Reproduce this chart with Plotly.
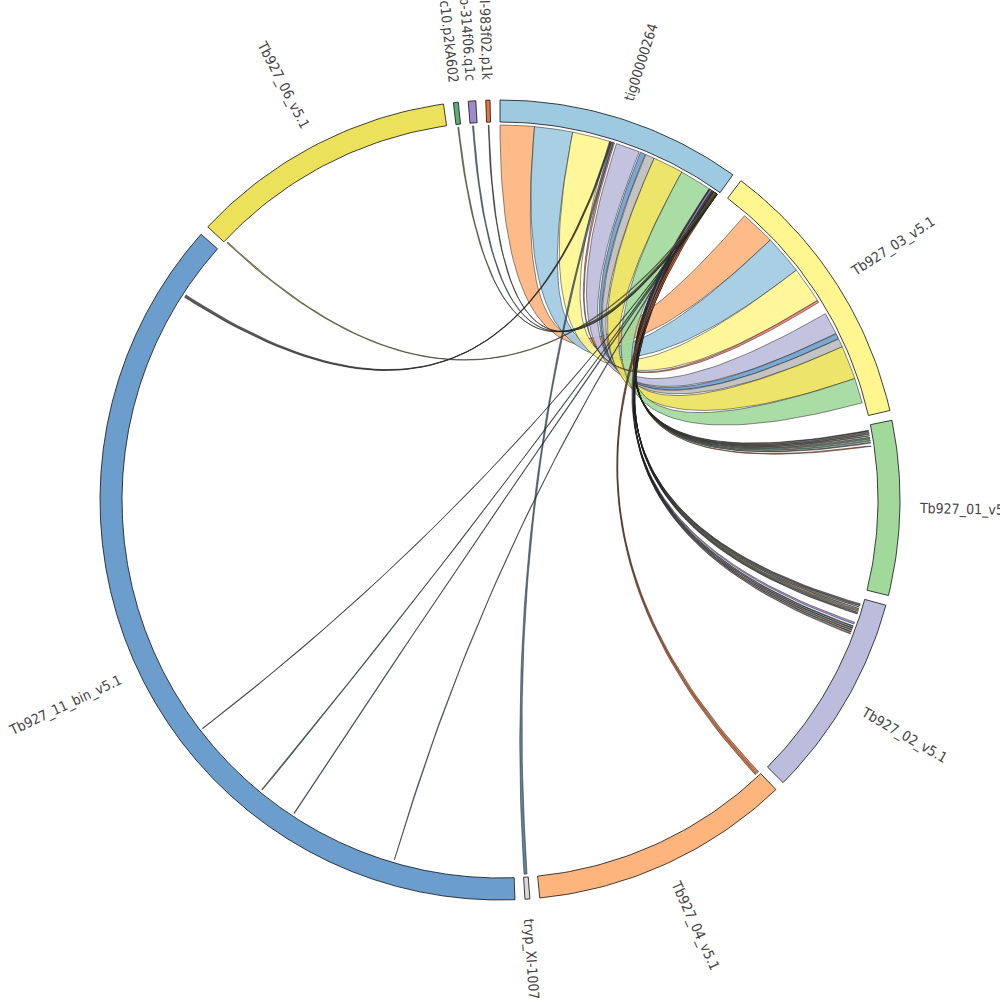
import numpy as np
import plotly.graph_objects as go

# ── Segments (clockwise from 12 o'clock), lengths in kb ──────────────────────
SEG_NAMES = [
    "tig00000264", "Tb927_03_v5.1", "Tb927_01_v5.1", "Tb927_02_v5.1",
    "Tb927_04_v5.1", "tryp_XI-1007h09.p1k", "Tb927_11_bin_v5.1", "Tb927_06_v5.1",
    "tryp_XI-1002c10.p2kA602", "tryp_XIb-314f06.q1c", "tryp_XI-983f02.p1k",
]
SEG_LEN_KB = [1467, 1650, 1043, 1224, 1562, 29, 5513, 1599, 29, 45, 25]
SEG_COLORS = [
    "#9ECAE1", "#FFF68F", "#A1D99B", "#BCBDDC", "#FDB47D", "#D9D9D9",
    "#6B9ECD", "#EBE15A", "#5BAE7C", "#9E8BCF", "#E8743B",
]

# ── Links: segment index + start/end (kb) on each side ───────────────────────
LINK_A = [0, 0, 0, 0, 0, 0, 0, 0, 0,
          0, 0, 0,
          0, 0, 0, 0, 0, 0, 0, 0, 0,
          0, 0, 0, 0, 0, 0, 0, 0,
          0, 0, 0, 0, 0, 0,
          0, 0,
          0, 0, 0, 0,
          0, 0, 0, 0]
LINK_A_START = [0, 218, 461, 746, 906, 943, 1001, 1195, 721,
                702, 708, 714,
                1398, 1402, 1406, 1410, 1414, 1418, 1422, 1426, 1430,
                1420, 1424, 1428, 1432, 1436, 1440, 1444, 1448,
                1404, 1430, 1434, 1438, 1442, 1446,
                1434, 1446,
                1450, 1452, 1454, 1456,
                1440, 1444, 1448, 1452]
LINK_A_END = [218, 461, 700, 898, 939, 1001, 1195, 1397, 733,
              707, 713, 726,
              1404, 1408, 1412, 1416, 1420, 1424, 1428, 1432, 1436,
              1425, 1429, 1433, 1437, 1441, 1445, 1449, 1453,
              1416, 1436, 1440, 1444, 1448, 1452,
              1446, 1458,
              1455, 1459, 1458, 1460,
              1448, 1451, 1456, 1458]
LINK_B = [1, 1, 1, 1, 1, 1, 1, 1, 1,
          6, 6, 5,
          2, 2, 2, 2, 2, 2, 2, 2, 2,
          3, 3, 3, 3, 3, 3, 3, 3,
          3, 3, 3, 3, 3, 3,
          4, 4,
          6, 6, 6, 6,
          7, 8, 9, 10]
LINK_B_START = [151, 374, 625, 955, 1095, 1132, 1189, 1404, 856,
                5146, 5156, 4,
                32, 42, 52, 62, 73, 83, 95, 108, 128,
                34, 42, 51, 61, 71, 79, 88, 96,
                155, 179, 191, 203, 216, 228,
                1, 17,
                758, 1458, 1708, 2249,
                8, 9, 14, 9]
LINK_B_END = [374, 625, 856, 1095, 1132, 1189, 1404, 1564, 872,
              5153, 5163, 25,
              38, 48, 58, 68, 79, 89, 101, 114, 134,
              39, 47, 56, 66, 76, 84, 93, 101,
              167, 185, 197, 210, 222, 234,
              13, 29,
              763, 1463, 1715, 2253,
              16, 16, 22, 15]
LINK_COLORS = [
    "#FDB47D", "#9ECAE1", "#FFF68F", "#BCBDDC", "#6B9ECD", "#BDBDBD", "#EBE15A", "#A1D99B", "#FB8072",
    "#555555", "#666666", "#4F7590",
    "#333333", "#888888", "#555555", "#8C6D4F", "#999999", "#5AAE7C", "#6DBE85", "#777777", "#E8743B",
    "#999999", "#777777", "#A0A0A0", "#8C6D4F", "#EBE155", "#BBBBBB", "#888888", "#666666",
    "#9E8BCF", "#2F4F5F", "#1F3F4F", "#8B3A2A", "#444444", "#8A8A8A",
    "#E8743B", "#D9622B",
    "#5B7F95", "#4F6F85", "#3F6F4F", "#3A5A3A",
    "#9A9440", "#8C8C3A", "#4F7F95", "#5A3A2A",
]

# ── Geometry ────────────────────────────────────────────────────────────────
GAP_DEG = 1.43
R_IN, R_OUT, R_LINK, R_LABEL = 378, 400, 375, 420
FONT_PX = 14
CONDENSED = 0.9  # width factor of DejaVu Sans Condensed

n_seg = len(SEG_NAMES)
deg_per_kb = (360 - n_seg * GAP_DEG) / sum(SEG_LEN_KB)
seg_start = []
acc = 0.0
for length in SEG_LEN_KB:
    seg_start.append(acc)
    acc += length * deg_per_kb + GAP_DEG


def ang(seg, kb):
    return seg_start[seg] + kb * deg_per_kb


def arc(r, a0, a1, n=40):
    t = np.radians(np.linspace(a0, a1, n))
    return r * np.sin(t), r * np.cos(t)


def bezier(p0, p2, n=60):
    # quadratic curve with control point at the circle centre
    t = np.linspace(0, 1, n)
    return (1 - t) ** 2 * p0[0] + t ** 2 * p2[0], (1 - t) ** 2 * p0[1] + t ** 2 * p2[1]


def pt(r, a):
    return r * np.sin(np.radians(a)), r * np.cos(np.radians(a))


def rgba(hex_color, alpha):
    h = hex_color.lstrip("#")
    return f"rgba({int(h[0:2], 16)},{int(h[2:4], 16)},{int(h[4:6], 16)},{alpha})"


fig = go.Figure()

# ring segments
for i in range(n_seg):
    a0, a1 = seg_start[i], seg_start[i] + SEG_LEN_KB[i] * deg_per_kb
    xo, yo = arc(R_OUT, a0, a1)
    xi, yi = arc(R_IN, a1, a0)
    fig.add_trace(go.Scatter(
        x=np.concatenate([xo, xi, xo[:1]]), y=np.concatenate([yo, yi, yo[:1]]),
        mode="lines", fill="toself", fillcolor=SEG_COLORS[i],
        line=dict(color="#111111", width=0.8), hoverinfo="skip", showlegend=False,
    ))

# links
for k in range(len(LINK_A)):
    a1, a2 = ang(LINK_A[k], LINK_A_START[k]), ang(LINK_A[k], LINK_A_END[k])
    b1, b2 = ang(LINK_B[k], LINK_B_START[k]), ang(LINK_B[k], LINK_B_END[k])
    xs, ys = arc(R_LINK, a1, a2, 20)
    xc1, yc1 = bezier(pt(R_LINK, a2), pt(R_LINK, b1))
    xt, yt = arc(R_LINK, b1, b2, 20)
    xc2, yc2 = bezier(pt(R_LINK, b2), pt(R_LINK, a1))
    fig.add_trace(go.Scatter(
        x=np.concatenate([xs, xc1, xt, xc2]), y=np.concatenate([ys, yc1, yt, yc2]),
        mode="lines", fill="toself", fillcolor=rgba(LINK_COLORS[k], 0.9),
        line=dict(color="rgba(25,25,25,0.9)", width=0.55), hoverinfo="skip", showlegend=False,
    ))

# labels, rotated along the radius
CHAR_W = {"0": .636, "1": .636, "2": .636, "3": .636, "4": .636, "5": .636, "6": .636,
          "7": .636, "8": .636, "9": .636, "T": .611, "b": .635, "_": .5, "v": .592,
          ".": .318, "t": .392, "i": .278, "g": .635, "n": .634, "p": .635, "r": .411,
          "y": .592, "X": .685, "I": .295, "-": .361, "f": .352, "k": .579, "q": .635,
          "c": .55, "A": .684, "h": .634}

for i, name in enumerate(SEG_NAMES):
    mid = seg_start[i] + SEG_LEN_KB[i] * deg_per_kb / 2
    width = sum(CHAR_W.get(ch, 0.6) for ch in name) * FONT_PX * CONDENSED
    cx, cy = pt(R_LABEL + width / 2, mid)
    tangle = mid - 90 if mid < 180 else mid - 270
    fig.add_annotation(
        x=(cx + 500) / 1000, y=(cy + 500) / 1000, xref="paper", yref="paper",
        text=name, textangle=tangle, showarrow=False,
        xanchor="center", yanchor="middle",
        font=dict(family="DejaVu Sans Condensed, DejaVu Sans", size=FONT_PX, color="#444444"),
    )

fig.update_layout(
    width=1000, height=1000,
    margin=dict(l=0, r=0, t=0, b=0),
    paper_bgcolor="white", plot_bgcolor="white",
    xaxis=dict(range=[-500, 500], visible=False, fixedrange=True),
    yaxis=dict(range=[-500, 500], visible=False, fixedrange=True),
)

# drop the default page margin so the figure sits at the window's top-left corner
fig.write_html("out.html", config={"displayModeBar": False},
               post_script="document.body.style.margin='0px';")
